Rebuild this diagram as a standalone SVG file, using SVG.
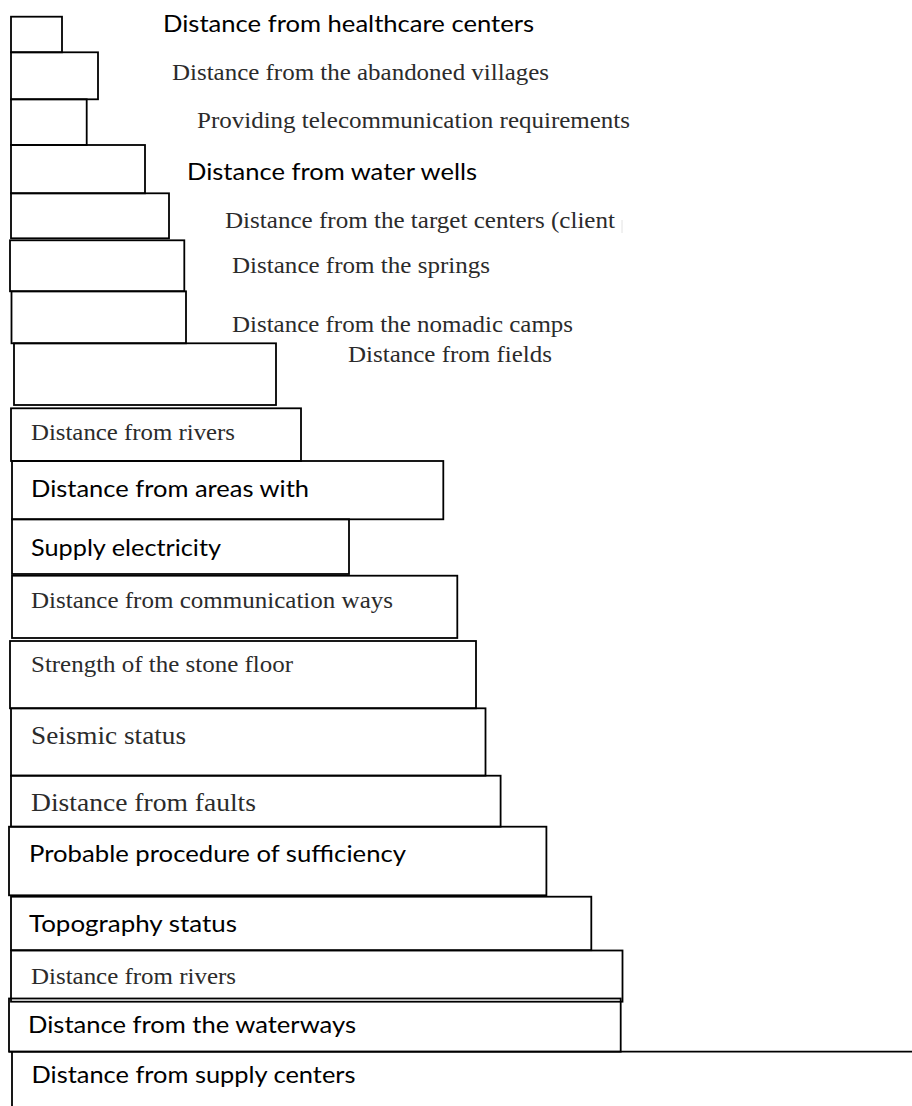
<svg xmlns="http://www.w3.org/2000/svg" width="912" height="1106" viewBox="0 0 912 1106">
<style>
.bg{fill:#fff}
.box{fill:none;stroke:#000;stroke-width:1.8}
.serif{font-family:"Liberation Serif","Times New Roman",serif;font-size:24px;fill:#2b2b2b}
.big{font-size:26px}
.sans{font-family:Lato,"Open Sans",sans-serif;font-size:23px;fill:#000}
.sans22{font-size:24px}
</style>
<rect class="bg" x="0" y="0" width="912" height="1106"/>
<g id="nodes">
<g id="n1"><rect class="box" x="11" y="16.7" width="51" height="35.6"/><text class="sans" x="163" y="31.5" textLength="371" lengthAdjust="spacingAndGlyphs">Distance from healthcare centers</text></g>
<g id="n2"><rect class="box" x="11" y="52.3" width="87" height="47"/><text class="serif" x="172" y="80" textLength="377" lengthAdjust="spacingAndGlyphs">Distance from the abandoned villages</text></g>
<g id="n3"><rect class="box" x="11" y="99.3" width="75.7" height="45.7"/><text class="serif" x="197" y="128" textLength="433" lengthAdjust="spacingAndGlyphs">Providing telecommunication requirements</text></g>
<g id="n4"><rect class="box" x="11" y="145" width="134" height="48.3"/><text class="sans" x="187" y="180" textLength="290" lengthAdjust="spacingAndGlyphs">Distance from water wells</text></g>
<g id="n5"><rect class="box" x="11" y="193.3" width="158" height="45"/><text class="serif" x="225" y="228" textLength="390" lengthAdjust="spacingAndGlyphs">Distance from the target centers (client</text><line x1="622" y1="220" x2="622" y2="233" stroke="#e2e2e2" stroke-width="1"/></g>
<g id="n6"><rect class="box" x="10" y="240.3" width="174.3" height="51"/><text class="serif" x="232" y="273" textLength="258" lengthAdjust="spacingAndGlyphs">Distance from the springs</text></g>
<g id="n7"><rect class="box" x="11.5" y="291.3" width="174.5" height="52"/><text class="serif" x="232" y="332" textLength="341" lengthAdjust="spacingAndGlyphs">Distance from the nomadic camps</text></g>
<g id="n8"><rect class="box" x="14" y="343.3" width="262" height="61.7"/><text class="serif" x="348" y="362" textLength="204" lengthAdjust="spacingAndGlyphs">Distance from fields</text></g>
<g id="n9"><rect class="box" x="11" y="408.3" width="290" height="52.7"/><text class="serif" x="31" y="440" textLength="204" lengthAdjust="spacingAndGlyphs">Distance from rivers</text></g>
<g id="n10"><rect class="box" x="12" y="461" width="431.3" height="58.3"/><text class="sans" x="31" y="497" textLength="278" lengthAdjust="spacingAndGlyphs">Distance from areas with</text></g>
<g id="n11"><rect class="box" x="12" y="519.3" width="337" height="54.7"/><text class="sans" x="31" y="556" textLength="190" lengthAdjust="spacingAndGlyphs">Supply electricity</text></g>
<g id="n12"><rect class="box" x="12" y="575.7" width="445.3" height="62.3"/><text class="serif" x="31" y="607.5" textLength="362" lengthAdjust="spacingAndGlyphs">Distance from communication ways</text></g>
<g id="n13"><rect class="box" x="10" y="641" width="466" height="67.3"/><text class="serif" x="31" y="672" textLength="262" lengthAdjust="spacingAndGlyphs">Strength of the stone floor</text></g>
<g id="n14"><rect class="box" x="11" y="708.3" width="474.5" height="67.3"/><text class="serif big" x="31" y="744" textLength="155" lengthAdjust="spacingAndGlyphs">Seismic status</text></g>
<g id="n15"><rect class="box" x="11" y="775.7" width="489.6" height="51"/><text class="serif big" x="31" y="811" textLength="225" lengthAdjust="spacingAndGlyphs">Distance from faults</text></g>
<g id="n16"><rect class="box" x="9" y="826.7" width="537.4" height="68.6"/><text class="sans sans22" x="29" y="862" textLength="377" lengthAdjust="spacingAndGlyphs">Probable procedure of sufficiency</text></g>
<g id="n17"><rect class="box" x="11" y="896.7" width="580.3" height="53.5"/><text class="sans" x="29" y="932" textLength="208" lengthAdjust="spacingAndGlyphs">Topography status</text></g>
<g id="n18"><rect class="box" x="11" y="950.5" width="611.5" height="51.2"/><text class="serif" x="31" y="984" textLength="205" lengthAdjust="spacingAndGlyphs">Distance from rivers</text></g>
<g id="n19"><rect class="box" x="9" y="998.5" width="611.7" height="53.2"/><text class="sans sans22" x="28" y="1033" textLength="328" lengthAdjust="spacingAndGlyphs">Distance from the waterways</text></g>
<g id="n20"><path class="box" d="M12 1106 V1051.7 M9 1051.7 H912"/><text class="sans sans22" x="31.5" y="1083" textLength="324" lengthAdjust="spacingAndGlyphs">Distance from supply centers</text></g>
</g>
<g id="connectors"/>
</svg>
